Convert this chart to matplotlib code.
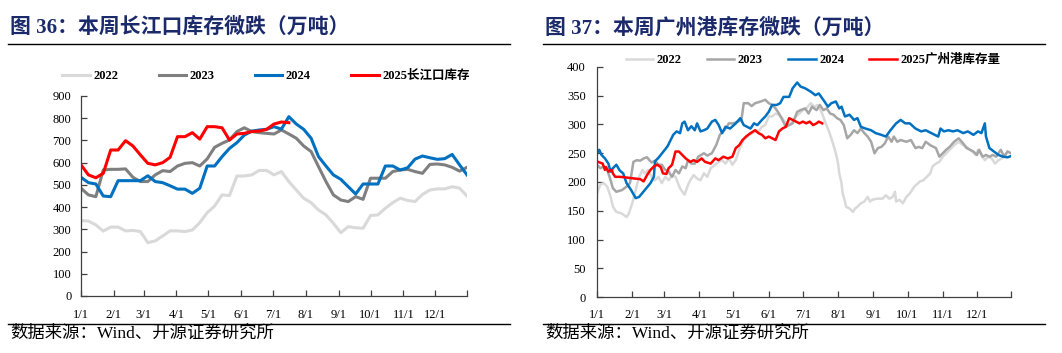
import numpy as np
import pandas as pd
import matplotlib
matplotlib.use('Agg')
from matplotlib import pyplot as plt

plt.rcParams['font.family'] = ['Liberation Serif', 'Noto Sans CJK SC']
plt.rcParams['axes.unicode_minus'] = False

# ---- figure 36: Yangtze river port inventory, weekly (10k t)
cj_2022 = [340, 337, 320, 292, 310, 310, 293, 295, 290, 240, 248, 270, 293, 293, 290, 297, 330, 375,
           405, 455, 452, 540, 540, 545, 565, 565, 545, 560, 515, 477, 440, 420, 387, 365, 327, 285,
           312, 307, 305, 362, 365, 395, 420, 440, 430, 425, 457, 477, 482, 482, 492, 485, 450]
cj_2023 = [485, 455, 447, 567, 570, 570, 572, 534, 515, 515, 545, 564, 560, 585, 597, 600, 585, 617,
           669, 687, 702, 740, 757, 740, 735, 732, 729, 747, 729, 710, 675, 650, 582, 515, 455, 432,
           425, 447, 435, 530, 530, 530, 560, 567, 570, 560, 552, 592, 594, 590, 579, 562, 579]
cj_2024 = [534, 510, 504, 450, 447, 519, 519, 519, 519, 541, 515, 510, 496, 481, 481, 462, 485, 585,
           585, 627, 664, 690, 724, 742, 747, 750, 762, 751, 807, 774, 750, 710, 627, 585, 545, 525,
           492, 459, 504, 504, 504, 585, 585, 567, 577, 616, 630, 622, 615, 618, 637, 590, 545]
cj_2025 = [590, 545, 532, 552, 657, 657, 699, 675, 635, 597, 590, 600, 624, 717, 717, 735, 706, 762,
           762, 757, 702, 729, 732, 740, 742, 750, 774, 783, 780]

# ---- figure 37: Guangzhou port inventory, (day of year, value)
gz_2022_d = [0, 3, 6, 9, 12, 14, 17, 22, 26, 28, 31, 34, 37, 40, 42, 45, 48, 51, 54, 57, 60, 63, 66, 69,
             73, 77, 80, 82, 85, 88, 91, 94, 97, 100, 104, 107, 110, 113, 116, 119, 122, 125, 129, 134,
             137, 140, 142, 145, 148, 151, 154, 157, 160, 163, 166, 169, 172, 175, 178, 181, 184, 188,
             191, 194, 198, 201, 204, 207, 210, 212, 213, 215, 216, 218, 219, 222, 225, 227, 229, 232,
             235, 238, 240, 242, 246, 251, 254, 257, 260, 262, 263, 266, 269, 272, 275, 279, 284, 287,
             290, 293, 295, 298, 301, 304, 307, 310, 314, 318, 322, 325, 330, 333, 335, 338, 341, 344,
             347, 350, 353, 356, 358, 361]
gz_2022_v = [180, 196, 198, 192, 174, 157, 148, 145, 139, 145, 163, 186, 209, 221, 215, 221, 209, 203,
             209, 198, 209, 203, 212, 209, 189, 178, 195, 203, 212, 206, 203, 215, 209, 224, 230, 235,
             238, 232, 241, 230, 238, 256, 273, 282, 285, 290, 288, 296, 299, 314, 314, 319, 317, 311,
             302, 299, 305, 314, 319, 325, 328, 337, 331, 334, 319, 302, 288, 270, 250, 232, 215, 198,
             180, 166, 157, 154, 148, 154, 157, 163, 166, 174, 166, 169, 171, 171, 177, 171, 174, 183,
             166, 169, 163, 174, 180, 192, 201, 203, 209, 215, 227, 232, 235, 244, 250, 256, 264, 270,
             264, 261, 253, 247, 256, 247, 238, 244, 241, 232, 238, 241, 245, 253]
gz_2023_d = [0, 3, 6, 9, 12, 14, 17, 22, 26, 29, 32, 35, 38, 41, 44, 46, 48, 51, 54, 57, 60, 63, 66, 69,
             72, 75, 78, 80, 83, 86, 89, 94, 97, 101, 105, 108, 112, 116, 120, 124, 127, 129, 133, 136,
             139, 144, 148, 151, 154, 157, 160, 163, 166, 169, 172, 176, 179, 183, 186, 189, 193, 196,
             199, 202, 205, 208, 211, 214, 217, 220, 223, 226, 229, 232, 235, 238, 241, 244, 247, 250,
             253, 256, 259, 261, 264, 267, 272, 276, 280, 283, 286, 289, 293, 298, 301, 304, 307, 310,
             314, 318, 322, 325, 328, 331, 334, 336, 339, 342, 345, 348, 351, 355, 358, 361, 364]
gz_2023_v = [230, 224, 227, 221, 203, 189, 183, 186, 192, 198, 235, 238, 237, 241, 243, 238, 234, 237,
             230, 230, 221, 218, 209, 221, 215, 227, 224, 238, 232, 232, 244, 250, 246, 250, 265, 282,
             290, 302, 302, 305, 308, 337, 337, 332, 337, 340, 343, 337, 334, 328, 319, 308, 296, 299,
             302, 322, 325, 328, 319, 331, 325, 334, 325, 328, 319, 317, 311, 308, 299, 276, 282, 290,
             285, 293, 285, 279, 270, 250, 259, 261, 267, 279, 270, 279, 270, 273, 270, 273, 259, 261,
             259, 270, 264, 259, 244, 250, 256, 261, 270, 276, 267, 259, 256, 253, 247, 256, 244, 247,
             244, 247, 244, 256, 244, 253, 250]
gz_2024_d = [0, 2, 4, 7, 10, 12, 14, 17, 20, 23, 26, 30, 34, 37, 42, 47, 50, 51, 54, 58, 62, 64, 67, 70,
             73, 75, 77, 80, 83, 86, 88, 91, 94, 97, 101, 104, 107, 110, 113, 117, 122, 126, 129, 132,
             135, 138, 141, 145, 148, 151, 154, 158, 161, 164, 169, 172, 176, 179, 183, 188, 192, 195,
             200, 203, 206, 210, 213, 215, 218, 222, 226, 229, 232, 236, 241, 245, 250, 254, 258, 263,
             267, 271, 275, 280, 285, 289, 294, 300, 302, 305, 309, 313, 317, 322, 326, 331, 335, 338,
             341, 342, 345, 349, 353, 357, 361, 364]
gz_2024_v = [250, 256, 247, 241, 232, 218, 224, 230, 220, 215, 198, 186, 172, 174, 186, 198, 209, 236,
             242, 252, 262, 270, 282, 288, 285, 302, 305, 290, 297, 290, 302, 288, 290, 293, 305, 308,
             299, 285, 296, 293, 302, 311, 299, 296, 293, 302, 299, 308, 314, 322, 334, 334, 337, 348,
             348, 363, 373, 366, 363, 357, 351, 354, 340, 331, 337, 340, 328, 331, 314, 317, 308, 311,
             296, 293, 290, 285, 282, 279, 290, 302, 308, 302, 302, 293, 288, 290, 285, 279, 293, 288,
             290, 288, 290, 285, 288, 282, 288, 285, 302, 279, 259, 253, 247, 244, 243, 245]
gz_2025_d = [1, 5, 7, 8, 10, 13, 14, 16, 20, 25, 29, 33, 38, 41, 44, 47, 50, 53, 56, 58, 61, 63, 66, 69,
             72, 75, 78, 82, 85, 88, 92, 95, 100, 104, 107, 111, 115, 119, 122, 125, 128, 131, 135, 139,
             142, 145, 148, 151, 154, 157, 160, 163, 166, 169, 172, 175, 178, 181, 184, 187, 190, 193,
             195, 198]
gz_2025_v = [235, 232, 221, 226, 218, 221, 215, 209, 209, 208, 207, 206, 205, 201, 212, 221, 227, 230,
             226, 215, 214, 224, 230, 253, 253, 247, 241, 235, 238, 235, 241, 235, 232, 241, 238, 244,
             241, 244, 259, 264, 273, 279, 285, 290, 285, 282, 276, 279, 276, 273, 288, 293, 296, 311,
             308, 305, 302, 305, 302, 305, 299, 302, 305, 302]

month_labels = ['1/1', '2/1', '3/1', '4/1', '5/1', '6/1', '7/1', '8/1', '9/1', '10/1', '11/1', '12/1']

navy = '#1b2a6b'
c22, c24, c25 = '#d9d9d9', '#0070c0', '#ff0000'

fig = plt.figure(figsize=(10.62, 3.53), dpi=100)

month_days = list(pd.date_range('2023-01-01', periods=12, freq='MS').dayofyear - 1)
week_days = list(pd.date_range('2023-01-01', periods=53, freq='7D').dayofyear - 1)


def style_axis(ax, ymax, ystep, ypad):
    ax.set_xlim(0, 364)
    ax.set_ylim(0, ymax)
    ax.set_yticks(np.arange(0, ymax + 1, ystep))
    ax.set_xticks(month_days + [364])
    ax.set_xticklabels(month_labels + [''])
    for s in ['top', 'right']:
        ax.spines[s].set_visible(False)
    for s in ['left', 'bottom']:
        ax.spines[s].set_color('#404040')
        ax.spines[s].set_linewidth(0.9)
    ax.tick_params(axis='both', direction='in', length=4, width=0.9, color='#404040', labelsize=9)
    ax.tick_params(axis='x', pad=9)
    ax.tick_params(axis='y', pad=ypad)


def frame(x0, x1, title):
    fig.add_artist(plt.Line2D([x0 / 1062, x1 / 1062], [1 - 44 / 353] * 2, color='black', lw=1.0))
    fig.add_artist(plt.Line2D([x0 / 1062, x1 / 1062], [1 - 324 / 353] * 2, color='black', lw=1.0))
    fig.text((x0 + 2) / 1062, 1 - 28 / 353, title, color=navy, fontsize=15, fontweight='bold',
             va='center', ha='left')
    fig.text((x0 + 2) / 1062, 1 - 334 / 353, '数据来源：Wind、开源证券研究所', color='black',
             fontsize=12.5, va='center', ha='left')


legend_font = {'family': ['Liberation Serif', 'Noto Sans CJK SC'], 'weight': 'bold', 'size': 9}

# left panel
ax1 = fig.add_axes([81 / 1062, 1 - 296 / 353, 386 / 1062, 200 / 353])
ax1.plot(week_days, cj_2022, color=c22, lw=2.2, label='2022')
ax1.plot(week_days, cj_2023, color='#7f7f7f', lw=2.2, label='2023')
ax1.plot(week_days, cj_2024, color=c24, lw=2.2, label='2024')
ax1.plot(week_days[:len(cj_2025)], cj_2025, color=c25, lw=2.2, label='2025长江口库存')
style_axis(ax1, 900, 100, 7)
ax1.legend(loc='center', bbox_to_anchor=(266 / 1062, 1 - 76 / 353), bbox_transform=fig.transFigure,
           ncol=4, frameon=False, prop=legend_font, handlelength=2.2, columnspacing=3.2,
           handletextpad=0.3)
frame(8, 510, '图 36：本周长江口库存微跌（万吨）')

# right panel
ax2 = fig.add_axes([597 / 1062, 1 - 297 / 353, 414 / 1062, 230 / 353])
ax2.plot(gz_2022_d, gz_2022_v, color=c22, lw=1.8, label='2022')
ax2.plot(gz_2023_d, gz_2023_v, color='#a6a6a6', lw=1.8, label='2023')
ax2.plot(gz_2024_d, gz_2024_v, color=c24, lw=1.8, label='2024')
ax2.plot(gz_2025_d, gz_2025_v, color=c25, lw=1.8, label='2025广州港库存量')
style_axis(ax2, 400, 50, 8)
ax2.legend(loc='center', bbox_to_anchor=(813 / 1062, 1 - 60 / 353), bbox_transform=fig.transFigure,
           ncol=4, frameon=False, prop=legend_font, handlelength=2.2, columnspacing=2.0,
           handletextpad=0.3)
frame(543, 1045, '图 37：本周广州港库存微跌（万吨）')

fig.savefig('out.png', dpi=100)
